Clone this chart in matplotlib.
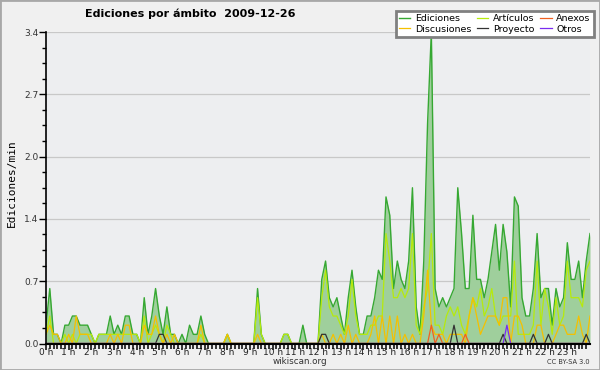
import matplotlib
matplotlib.use("Agg")
import matplotlib.pyplot as plt
import numpy as np
from matplotlib.patches import Rectangle
from matplotlib.ticker import FixedLocator, FormatStrFormatter

# edits per 10-minute bin, 00:00 -> 24:00 (one row per hour)
ediciones = [
    2, 6, 1, 1, 0, 2,
    2, 3, 3, 2, 2, 2,
    1, 0, 1, 1, 1, 3,
    1, 2, 1, 3, 3, 1,
    1, 0, 5, 1, 3, 6,
    3, 1, 4, 1, 1, 0,
    1, 0, 2, 1, 1, 3,
    1, 0, 0, 0, 0, 0,
    1, 0, 0, 0, 0, 0,
    0, 0, 6, 1, 0, 0,
    0, 0, 0, 1, 1, 0,
    0, 0, 2, 0, 0, 0,
    0, 7, 9, 5, 4, 5,
    3, 1, 5, 8, 4, 1,
    1, 3, 3, 5, 8, 7,
    16, 14, 6, 9, 7, 6,
    9, 17, 4, 1, 9, 24,
    34, 6, 4, 5, 4, 5,
    6, 17, 12, 6, 6, 14,
    7, 7, 5, 7, 10, 13,
    8, 13, 10, 4, 16, 15,
    5, 3, 3, 6, 12, 5,
    6, 6, 2, 6, 4, 5,
    11, 7, 7, 9, 5, 9,
    12,
]
articulos = [
    1, 3, 0, 0, 0, 1,
    0, 1, 0, 1, 1, 1,
    1, 0, 1, 1, 1, 1,
    1, 1, 1, 1, 1, 1,
    1, 0, 3, 0, 1, 2,
    1, 0, 2, 1, 0, 0,
    0, 0, 0, 0, 0, 1,
    0, 0, 0, 0, 0, 0,
    1, 0, 0, 0, 0, 0,
    0, 0, 5, 1, 0, 0,
    0, 0, 0, 1, 1, 0,
    0, 0, 0, 0, 0, 0,
    0, 5, 8, 4, 3, 3,
    2, 1, 3, 7, 3, 1,
    1, 1, 2, 2, 3, 3,
    12, 9, 5, 5, 6, 5,
    6, 12, 2, 1, 4, 6,
    12, 2, 2, 1, 3, 4,
    3, 4, 2, 1, 3, 5,
    4, 6, 3, 4, 6, 3,
    2, 3, 3, 3, 9, 1,
    1, 1, 1, 2, 9, 2,
    6, 4, 1, 5, 2, 3,
    9, 5, 5, 5, 4, 8,
    9,
]
discusiones = [
    1, 2, 1, 1, 0, 0,
    1, 0, 3, 1, 1, 1,
    0, 0, 0, 0, 0, 1,
    0, 1, 0, 2, 2, 0,
    0, 0, 2, 1, 1, 3,
    1, 0, 1, 0, 1, 0,
    0, 0, 0, 0, 0, 2,
    0, 0, 0, 0, 0, 0,
    1, 0, 0, 0, 0, 0,
    0, 0, 1, 0, 0, 0,
    0, 0, 0, 0, 0, 0,
    0, 0, 0, 0, 0, 0,
    0, 1, 0, 0, 1, 0,
    1, 0, 2, 0, 1, 0,
    0, 0, 1, 3, 0, 3,
    0, 3, 0, 3, 0, 1,
    0, 1, 0, 0, 3, 8,
    2, 1, 1, 1, 0, 1,
    1, 1, 1, 0, 3, 5,
    3, 1, 2, 3, 3, 3,
    2, 5, 5, 0, 3, 3,
    2, 0, 0, 0, 2, 2,
    0, 0, 0, 1, 2, 2,
    1, 1, 1, 3, 1, 0,
    3,
]
proyecto = [
    0, 0, 0, 0, 0, 0,
    0, 0, 0, 0, 0, 0,
    0, 0, 0, 0, 0, 0,
    0, 0, 0, 0, 0, 0,
    0, 0, 0, 0, 0, 0,
    1, 1, 0, 0, 0, 0,
    0, 0, 0, 0, 0, 0,
    0, 0, 0, 0, 0, 0,
    0, 0, 0, 0, 0, 0,
    0, 0, 0, 0, 0, 0,
    0, 0, 0, 0, 0, 0,
    0, 0, 0, 0, 0, 0,
    0, 1, 1, 0, 0, 0,
    0, 0, 0, 0, 0, 0,
    0, 0, 0, 0, 0, 0,
    0, 0, 0, 0, 0, 0,
    0, 0, 0, 0, 0, 0,
    0, 0, 0, 0, 0, 0,
    2, 0, 0, 0, 0, 0,
    0, 0, 0, 0, 0, 0,
    0, 1, 0, 0, 0, 0,
    0, 0, 0, 1, 0, 0,
    0, 1, 0, 0, 0, 0,
    0, 0, 0, 0, 0, 1,
    0,
]
anexos = [0] * 145
anexos[102] = 2
anexos[104] = 1
anexos[111] = 1
otros = [0] * 145
otros[122] = 2

hour_labels = [f"{h} h" for h in range(24)]
y_labels_at = np.linspace(0, 3.4, 6)

# counts per 10 min -> edits per minute
hours = np.arange(len(ediciones)) / 6
rate = lambda s: np.array(s) / 10.0

fig = plt.figure(figsize=(6, 3.7), dpi=100)
fig.patch.set_facecolor("#f0f0f0")
fig.patches.append(Rectangle((0, 0), 1, 1, transform=fig.transFigure, fill=False,
                             edgecolor="#a8a8a8", lw=2, zorder=0))
ax = fig.add_axes([46 / 600, 26.5 / 370, 544 / 600, 311.5 / 370])
ax.set_facecolor("#edeef0")

ed = rate(ediciones)
ax.fill_between(hours, 0, ed, color="#9fcf9c", lw=0, zorder=1)
h_ed, = ax.plot(hours, ed, color="#36a832", lw=1.0, zorder=2, label="Ediciones")
h_art, = ax.plot(hours, rate(articulos), color="#b6ea0c", lw=0.9, zorder=3, label="Artículos")
h_dis, = ax.plot(hours, rate(discusiones), color="#f5c000", lw=0.9, zorder=3, label="Discusiones")
h_pro, = ax.plot(hours, rate(proyecto), color="#333333", lw=0.9, zorder=3, label="Proyecto")
h_anx, = ax.plot(hours, rate(anexos), color="#f06020", lw=0.9, zorder=3, label="Anexos")
h_otr, = ax.plot(hours, rate(otros), color="#7a2cf0", lw=0.9, zorder=3, label="Otros")

ax.set_xlim(0, 24)
ax.set_ylim(0, 3.4)
ax.xaxis.set_major_locator(FixedLocator(range(24)))
ax.set_xticklabels(hour_labels)
ax.xaxis.set_minor_locator(FixedLocator(np.arange(0, 24, 1 / 6)))
ax.yaxis.set_major_locator(FixedLocator(y_labels_at))
ax.yaxis.set_major_formatter(FormatStrFormatter("%.1f"))
ax.yaxis.set_minor_locator(FixedLocator(np.linspace(0, 3.4, 21)))

ax.yaxis.grid(True, color="#c8c8c8", lw=0.9)
ax.set_axisbelow(True)
for side in ("top", "right"):
    ax.spines[side].set_visible(False)
ax.spines["left"].set_linewidth(1.2)
ax.spines["bottom"].set_linewidth(1.5)
ax.spines["bottom"].set_zorder(6)
ax.spines["left"].set_zorder(6)

ax.tick_params(axis="x", which="major", length=4.5, width=1.1, labelsize=6.5, pad=-1, labelcolor="#222")
ax.tick_params(axis="x", which="minor", length=3.5, width=1.1)
ax.tick_params(axis="y", which="major", length=5, width=1, labelsize=6.5, pad=0.5, labelcolor="#333")
ax.tick_params(axis="y", which="minor", length=3, width=1)

fig.text(12 / 600, 0.505, "Ediciones/min", rotation=90, family="DejaVu Sans Mono",
         fontsize=8, ha="center", va="center")
fig.text(85 / 600, 1 - 14 / 370, "Ediciones por ámbito  2009-12-26", fontsize=8,
         fontweight="bold", ha="left", va="center")
fig.text(300 / 600, 1 - 362 / 370, "wikiscan.org", fontsize=6.3, ha="center", va="center", color="#333")
fig.text(590 / 600, 1 - 362 / 370, "CC BY-SA 3.0", fontsize=4.8, ha="right", va="center", color="#333")

leg = ax.legend([h_ed, h_dis, h_art, h_pro, h_anx, h_otr],
                ["Ediciones", "Discusiones", "Artículos", "Proyecto", "Anexos", "Otros"],
                ncol=3, loc="upper right", bbox_to_anchor=(594 / 600, 1 - 11 / 370),
                bbox_transform=fig.transFigure, fontsize=6.8, handlelength=1.2,
                handletextpad=0.5, columnspacing=0.6, labelspacing=0.15,
                borderpad=0.35, borderaxespad=0, fancybox=False, framealpha=1)
leg.get_frame().set_edgecolor("#808080")
leg.get_frame().set_linewidth(2)
leg.set_zorder(10)

fig.savefig("out.png", dpi=100, facecolor=fig.get_facecolor())
